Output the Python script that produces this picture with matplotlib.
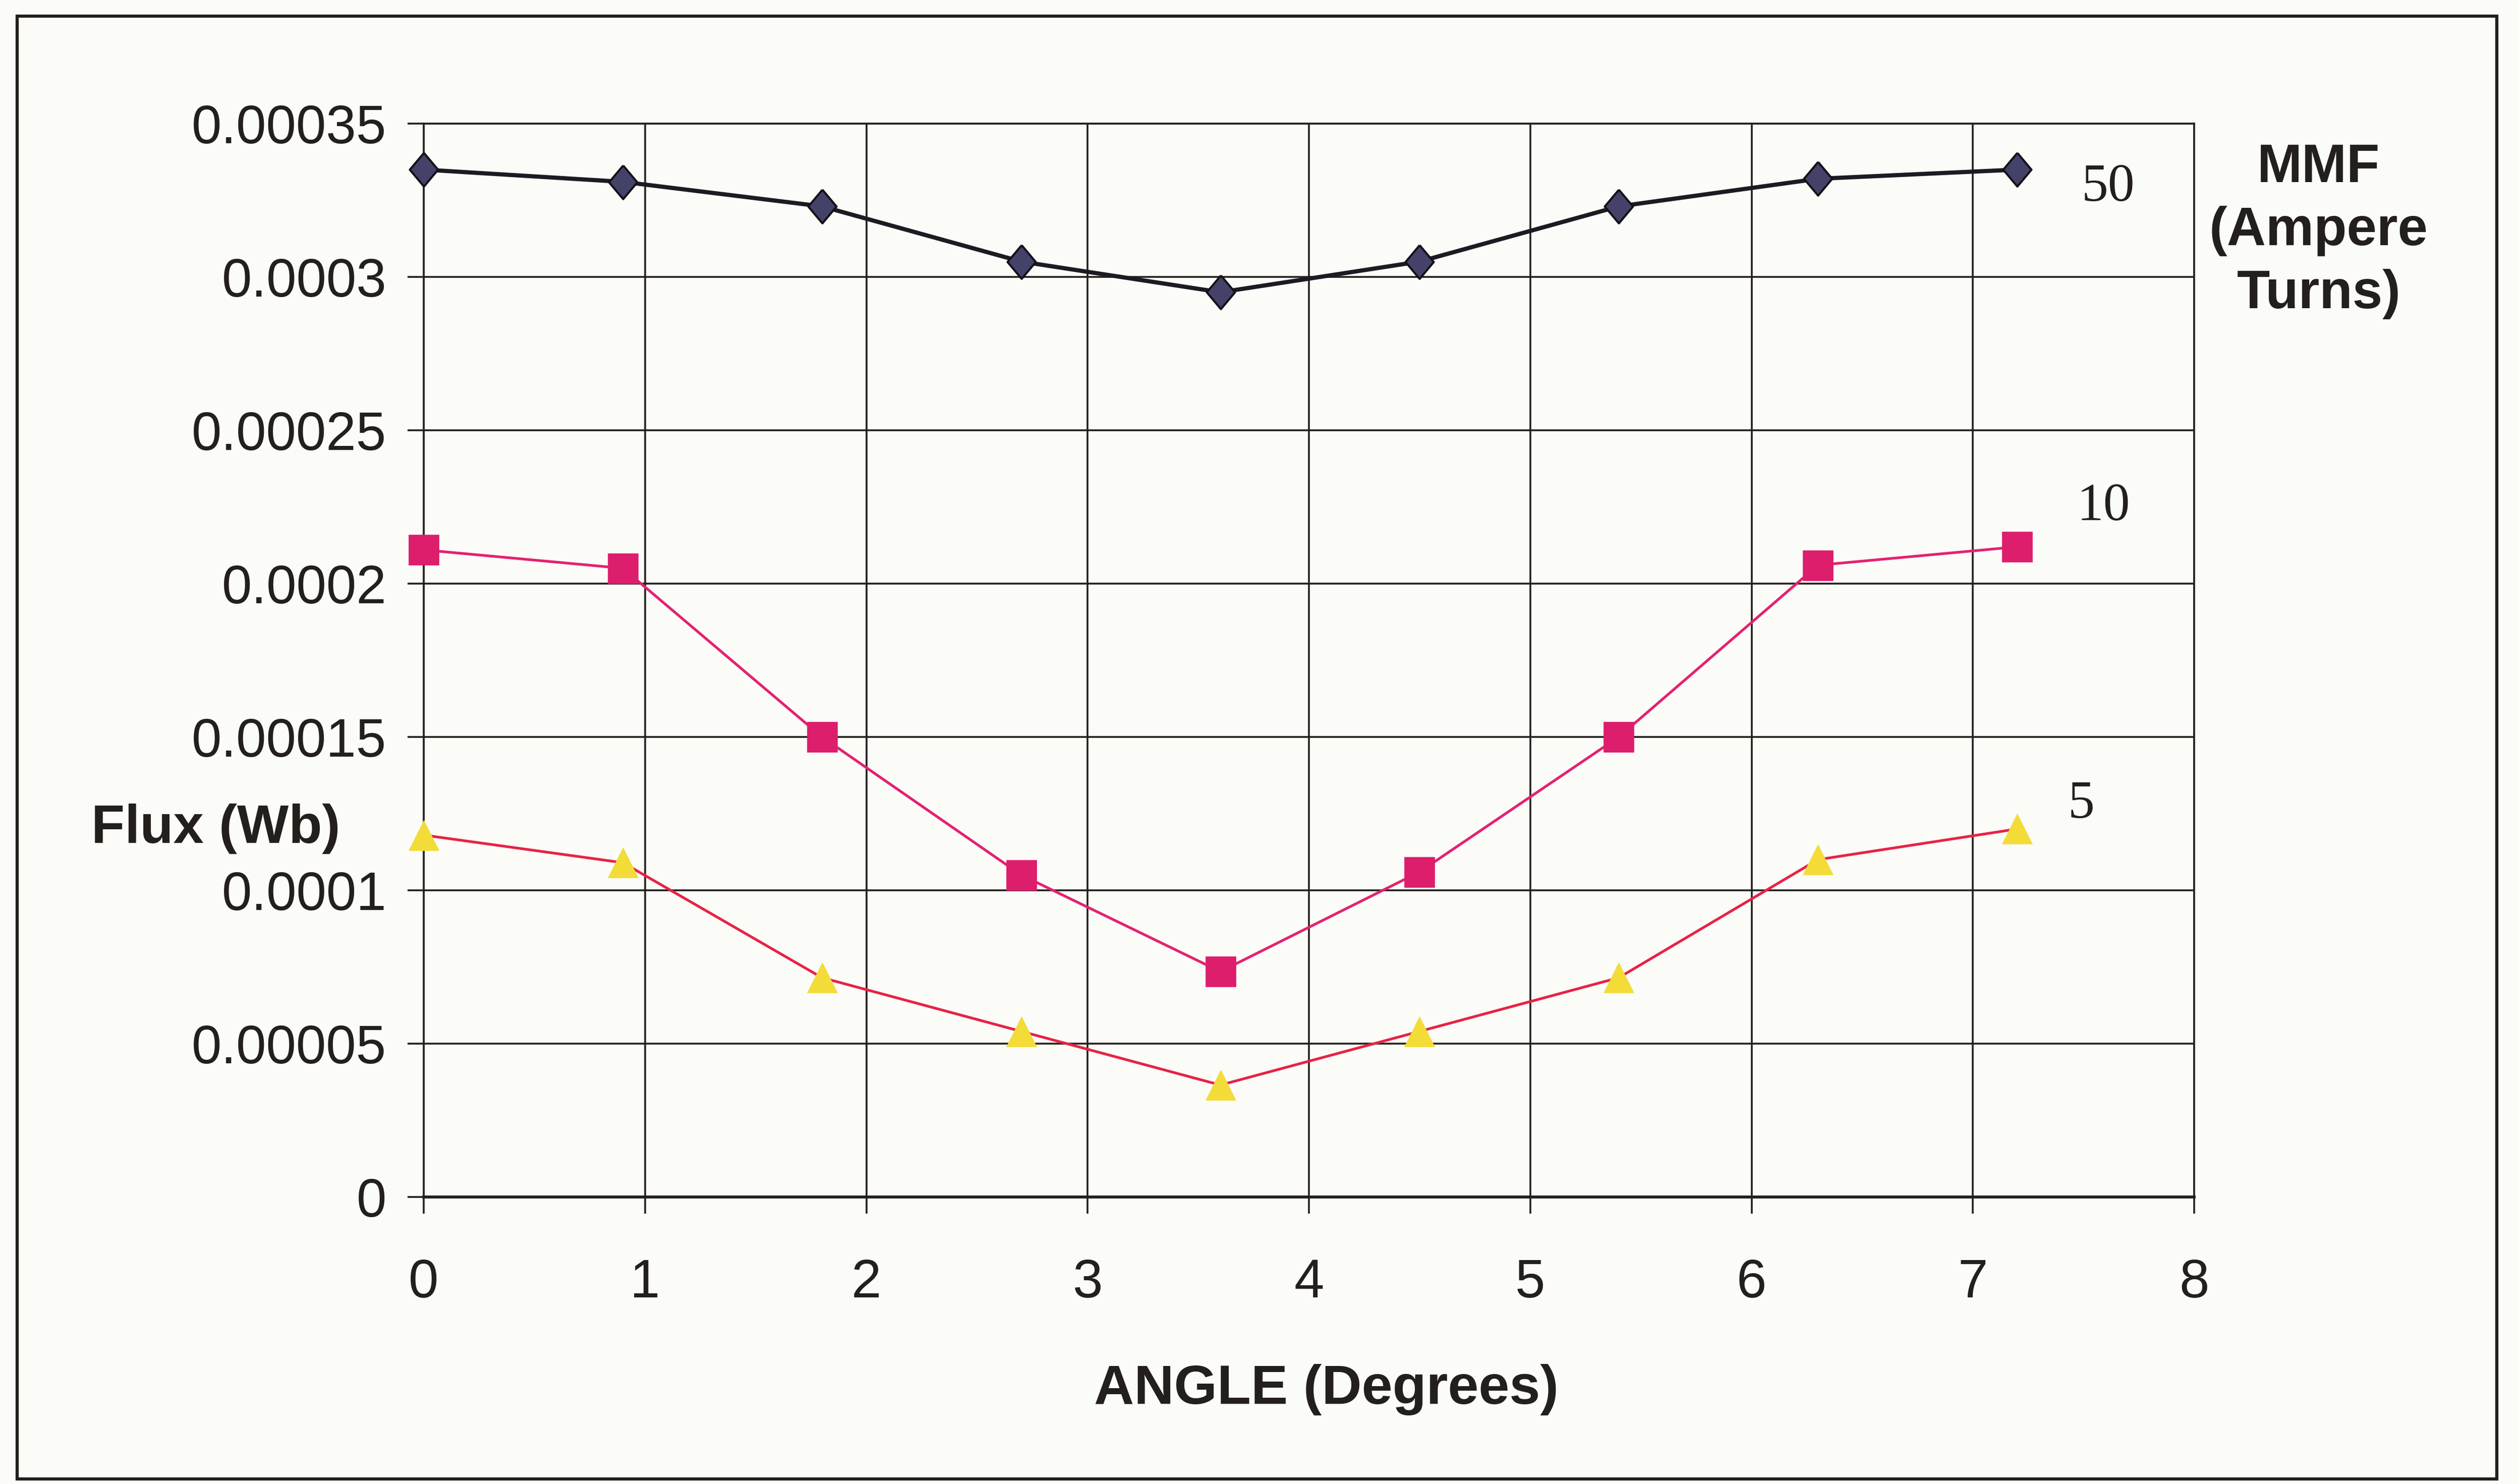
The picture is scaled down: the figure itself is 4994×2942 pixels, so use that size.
import matplotlib
matplotlib.use("Agg")
import matplotlib.pyplot as plt
from matplotlib.patches import Rectangle

# Rotor angle (degrees) and flux linkage (Wb) for three MMF levels
angle_deg = [0.0, 0.9, 1.8, 2.7, 3.6, 4.5, 5.4, 6.3, 7.2]
flux_mmf50 = [0.000335, 0.000331, 0.000323, 0.000305, 0.000295,
              0.000305, 0.000323, 0.000332, 0.000335]
flux_mmf10 = [0.000211, 0.000205, 0.000150, 0.000105, 0.0000735,
              0.000106, 0.000150, 0.000206, 0.000212]
flux_mmf5 = [0.000118, 0.000109, 0.0000715, 0.000054, 0.0000365,
             0.000054, 0.0000715, 0.000110, 0.000120]
mmf_labels = ["50", "10", "5"]

x_ticks = [0, 1, 2, 3, 4, 5, 6, 7, 8]
y_ticks = [0, 0.00005, 0.0001, 0.00015, 0.0002, 0.00025, 0.0003, 0.00035]
y_tick_labels = ["0", "0.00005", "0.0001", "0.00015", "0.0002",
                 "0.00025", "0.0003", "0.00035"]

W, H, DPI = 4994, 2942, 100
BG = "#fbfbf7"
INK = "#231f1c"
SANS = ["Liberation Sans", "DejaVu Sans"]
SERIF = ["Liberation Serif", "DejaVu Serif"]

fig = plt.figure(figsize=(W / DPI, H / DPI), dpi=DPI, facecolor=BG)

# outer frame of the chart
fig.patches.append(Rectangle((34 / W, 1 - 2932 / H), (4950 - 34) / W, (2932 - 32) / H,
                             transform=fig.transFigure, fill=False,
                             edgecolor=INK, linewidth=4.5))

ax = fig.add_axes([840 / W, 1 - 2373 / H, (4350 - 840) / W, (2373 - 245) / H])
ax.set_facecolor(BG)
ax.set_xlim(0, 8)
ax.set_ylim(0, 0.00035)

ax.set_xticks(x_ticks)
ax.set_xticklabels([str(t) for t in x_ticks], fontsize=77, family=SANS, color=INK)
ax.set_yticks(y_ticks)
ax.set_yticklabels(y_tick_labels, fontsize=77, family=SANS, color=INK)
ax.tick_params(axis="x", direction="out", length=24, width=2.6, color=INK, pad=63)
ax.tick_params(axis="y", direction="out", length=23, width=2.6, color=INK, pad=30)

ax.grid(True, color=INK, linewidth=2.6, zorder=1)
ax.set_axisbelow(True)
for side, sp in ax.spines.items():
    sp.set_color(INK)
    sp.set_linewidth(4.2 if side == "bottom" else 2.6)

diamond = [(0, 0.5), (0.42, 0), (0, -0.5), (-0.42, 0), (0, 0.5)]

ax.plot(angle_deg, flux_mmf50, color="#1d1a22", linewidth=6,
        marker=diamond, markersize=48, markerfacecolor="#45426a",
        markeredgecolor="#141218", markeredgewidth=3, zorder=5, clip_on=False)
ax.plot(angle_deg, flux_mmf10, color="#e3226f", linewidth=3.8,
        marker="s", markersize=43, markerfacecolor="#dc1e6c",
        markeredgecolor="#dc1e6c", markeredgewidth=0.5, zorder=4, clip_on=False)
ax.plot(angle_deg, flux_mmf5, color="#e62345", linewidth=3.8,
        marker="^", markersize=43, markerfacecolor="#f3dc38",
        markeredgecolor="#f3dc38", markeredgewidth=0.5, zorder=4, clip_on=False)

# series labels at the right end of each curve
label_pos = [(7.61, 0.000329), (7.59, 0.0002248), (7.49, 0.0001278)]
for text, (lx, ly) in zip(mmf_labels, label_pos):
    ax.text(lx, ly, text, fontsize=76, family=SERIF, color=INK,
            ha="center", va="center", zorder=6)

fig.text(4597 / W, 1 - 458 / H, "MMF\n(Ampere\nTurns)", fontsize=77,
         fontweight="bold", family=SANS, color=INK, ha="center", va="center",
         linespacing=1.32)
fig.text(428 / W, 1 - 1643 / H, "Flux (Wb)", fontsize=78, fontweight="bold",
         family=SANS, color=INK, ha="center", va="center")
fig.text(2630 / W, 1 - 2755 / H, "ANGLE (Degrees)", fontsize=79, fontweight="bold",
         family=SANS, color=INK, ha="center", va="center")

fig.savefig("out.png", dpi=DPI, facecolor=BG)
